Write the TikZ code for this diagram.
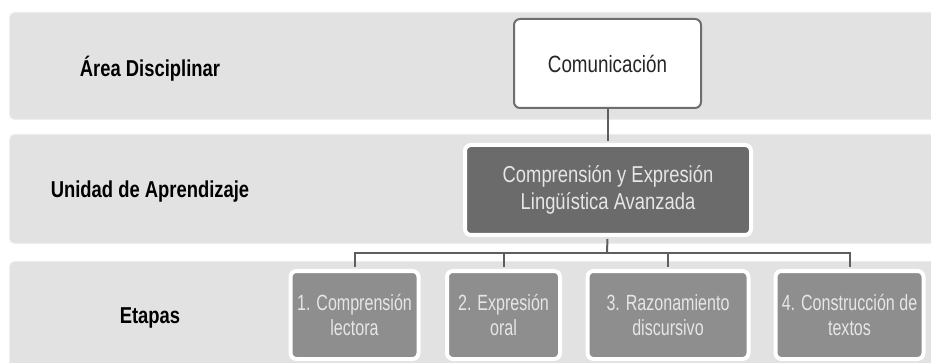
\documentclass[tikz,border=0pt]{standalone}
\usepackage{fontspec}
\setmainfont{Liberation Sans}[FakeStretch=0.8]
\newfontfamily\stagefont{Liberation Sans}[FakeStretch=0.73]
\usetikzlibrary{shadows}
\definecolor{bandfill}{HTML}{E2E2E2}
\definecolor{bandline}{HTML}{EEEEEE}
\definecolor{darkbox}{HTML}{6B6B6B}
\definecolor{stepfill}{HTML}{8E8E8E}
\definecolor{linkc}{HTML}{5E5E5E}
\definecolor{boxline}{HTML}{6E6E6E}
\definecolor{lighttext}{HTML}{E6E6E6}
\begin{document}
\begin{tikzpicture}[x=1pt,y=-1pt,
  band/.style={draw=bandline, line width=1pt, fill=bandfill, rounded corners=5pt,
    minimum width=931pt, minimum height=#1, inner sep=0pt, anchor=north west},
  rowlabel/.style={font=\fontsize{23}{27}\selectfont\bfseries, text=black, anchor=base, inner sep=0pt},
  topbox/.style={draw=boxline, line width=2pt, fill=white, rounded corners=6pt,
    minimum width=187pt, minimum height=89pt, inner sep=0pt,
    font=\fontsize{23.5}{27}\selectfont, text=black!85},
  unitbox/.style={draw=white, line width=4pt, fill=darkbox, rounded corners=6pt,
    minimum width=286pt, minimum height=90pt, inner sep=0pt, align=center,
    font=\fontsize{23}{27}\selectfont, text=lighttext,
    drop shadow={opacity=0.25, shadow xshift=0pt, shadow yshift=-1.5pt}},
  stagebox/.style={draw=white, line width=4pt, fill=stepfill, rounded corners=6pt,
    minimum width=#1, minimum height=88pt, inner sep=0pt, align=center,
    font=\stagefont\fontsize{22}{25}\selectfont, text=lighttext,
    drop shadow={opacity=0.2, shadow xshift=0pt, shadow yshift=-1.5pt}},
  link/.style={draw=linkc, line width=2pt}
]
\useasboundingbox (0,0) rectangle (931,363);
\fill[white] (0,0) rectangle (931,363);

% background bands
\node[band=107pt] (band1) at (9,12) {};
\node[band=109pt] (band2) at (9,134) {};
\node[band=111pt] (band3) at (9,261) {};

% row labels
\node[rowlabel] (lab1) at (150,77) {Área Disciplinar};
\node[rowlabel] (lab2) at (150,198) {Unidad de Aprendizaje};
\node[rowlabel] (lab3) at (150,323) {Etapas};

% boxes
\node[topbox] (com) at (607.5,63.5) {Comunicación};
\node[unitbox] (unit) at (608,190) {Comprensión y Expresión\\Lingüística Avanzada};
\node[stagebox=128pt] (e1) at (354.5,315) {1. Comprensión\\lectora};
\node[stagebox=113pt] (e2) at (503.5,315) {2. Expresión\\oral};
\node[stagebox=161pt] (e3) at (668,315) {3. Razonamiento\\discursivo};
\node[stagebox=148pt] (e4) at (849.5,315) {4. Construcción de\\textos};

% connectors
\coordinate (bus) at (607,253);
\draw[link, shorten >=2pt] (com.south) -- (com.south |- unit.north);
\draw[link, shorten <=2pt] (com.south |- unit.south) -- (bus);
\draw[link, shorten <=2pt, shorten >=2pt] (e1.north) |- (bus) -| (e4.north);
\draw[link, shorten >=2pt] (e2.north |- bus) -- (e2.north);
\draw[link, shorten >=2pt] (e3.north |- bus) -- (e3.north);
\end{tikzpicture}
\end{document}
